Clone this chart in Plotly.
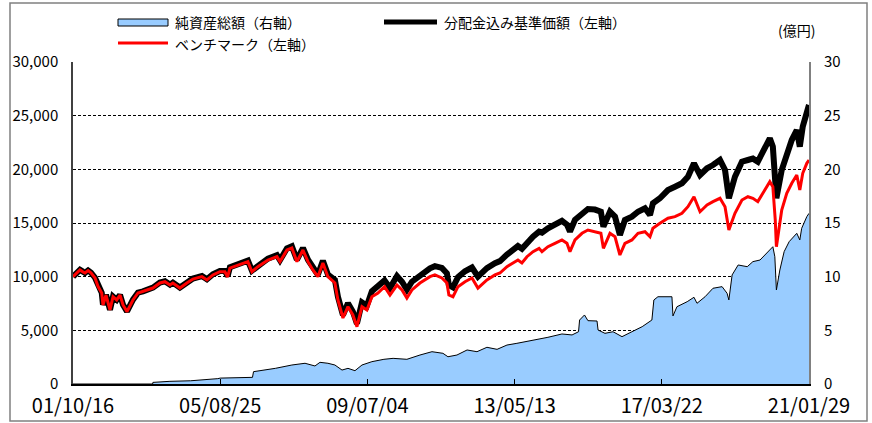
import plotly.graph_objects as go

# 分配金込み基準価額（左軸・円）とベンチマーク（左軸・円）
price_dates = [
    "2001-10-16", "2001-11-13", "2001-12-22", "2002-01-19", "2002-02-08", "2002-03-09",
    "2002-04-06", "2002-05-15", "2002-06-12", "2002-07-18", "2002-07-30", "2002-08-28",
    "2002-10-05", "2002-11-03", "2002-12-08", "2003-01-09", "2003-02-07", "2003-03-17",
    "2003-05-13", "2003-06-30", "2003-08-17", "2003-09-24", "2003-11-20", "2004-01-26",
    "2004-03-14", "2004-05-01", "2004-05-29", "2004-08-04", "2004-10-10", "2004-12-07",
    "2005-03-03", "2005-04-20", "2005-06-16", "2005-08-22", "2005-10-09", "2005-11-04",
    "2005-11-26", "2006-02-11", "2006-05-17", "2006-06-25", "2006-08-21", "2006-11-25",
    "2007-02-19", "2007-03-20", "2007-05-26", "2007-07-12", "2007-08-29", "2007-10-26",
    "2007-12-13", "2008-01-29", "2008-03-17", "2008-05-04", "2008-06-21", "2008-08-27",
    "2008-09-25", "2008-11-12", "2008-12-30", "2009-02-15", "2009-03-26", "2009-05-13",
    "2009-06-29", "2009-08-16", "2009-10-13", "2009-12-15", "2010-02-05", "2010-04-13",
    "2010-05-31", "2010-07-17", "2010-09-03", "2010-11-19", "2011-02-23", "2011-04-11",
    "2011-06-17", "2011-08-04", "2011-08-23", "2011-10-01", "2011-11-18", "2012-01-24",
    "2012-03-31", "2012-05-27", "2012-08-21", "2012-11-06", "2012-12-24", "2013-03-01",
    "2013-04-27", "2013-06-14", "2013-07-22", "2013-09-08", "2013-11-05", "2014-01-02",
    "2014-01-30", "2014-03-28", "2014-06-03", "2014-08-09", "2014-09-26", "2014-10-25",
    "2014-12-12", "2015-02-17", "2015-04-15", "2015-06-21", "2015-08-17", "2015-09-10",
    "2015-11-12", "2015-12-30", "2016-02-15", "2016-04-03", "2016-06-09", "2016-08-06",
    "2016-10-12", "2016-11-29", "2016-12-27", "2017-03-04", "2017-05-20", "2017-07-26",
    "2017-10-01", "2017-11-27", "2018-01-24", "2018-03-23", "2018-05-29", "2018-07-25",
    "2018-09-30", "2018-11-17", "2018-12-24", "2019-02-20", "2019-04-28", "2019-06-24",
    "2019-08-11", "2019-09-27", "2019-12-03", "2020-01-20", "2020-02-18", "2020-03-12",
    "2020-03-23", "2020-05-13", "2020-06-30", "2020-08-17", "2020-10-04", "2020-11-02",
    "2020-11-30", "2021-01-08", "2021-01-29",
]
nav_values = [
    10000, 10310, 10640, 10470, 10360, 10580,
    10370, 9900, 9120, 8500, 7380, 8310,
    6920, 8150, 7850, 8310, 7380, 6760,
    7860, 8510, 8630, 8790, 8980, 9450,
    9570, 9260, 9450, 8990, 9460, 9830,
    10060, 9750, 10220, 10530, 10540, 10050,
    10880, 11180, 11500, 10560, 11040, 11680,
    12000, 11540, 12640, 12840, 11570, 12670,
    11580, 10800, 10180, 11480, 10200, 9700,
    8120, 6420, 7520, 6740, 5620, 7600,
    7300, 8640, 9050, 9650, 8950, 10060,
    9530, 8800, 9530, 10160, 10780, 10980,
    10820, 10310, 9220, 9000, 9950, 10500,
    10850, 10000, 10800, 11250, 11450, 12050,
    12500, 12850, 12600, 13200, 13720, 14190,
    14100, 14510, 14810, 15200, 14850, 14190,
    15300, 15900, 16300, 16250, 16050, 14660,
    16050, 15590, 13880, 15280, 15590, 16050,
    16370, 15750, 16840, 17300, 18070, 18380,
    18700, 19310, 20560, 19470, 20100, 20400,
    20870, 19940, 17300, 19310, 20710, 20870,
    21000, 20710, 22110, 22890, 22110, 19000,
    17300, 19940, 21490, 22730, 23660, 22110,
    23970, 25530, 26000,
]
bench_values = [
    10000, 10300, 10620, 10450, 10340, 10560,
    10350, 9880, 9100, 8480, 7360, 8290,
    6900, 8130, 7830, 8290, 7360, 6740,
    7830, 8480, 8600, 8760, 8940, 9410,
    9530, 9220, 9410, 8940, 9410, 9780,
    10000, 9690, 10160, 10460, 10460, 9970,
    10800, 11090, 11400, 10460, 10930, 11550,
    11860, 11400, 12480, 12670, 11400, 12480,
    11400, 10620, 10000, 11270, 10000, 9410,
    7830, 6150, 7200, 6430, 5340, 7200,
    6900, 8130, 8480, 9070, 8290, 9220,
    8760, 8010, 8760, 9410, 10000, 10160,
    9880, 9410, 8290, 8130, 9070, 9530,
    9880, 8940, 9690, 10160, 10340, 10930,
    11270, 11550, 11270, 11860, 12330, 12640,
    12330, 12790, 13110, 13420, 13110, 12330,
    13420, 14040, 14350, 14190, 14040, 12640,
    14040, 13720, 12020, 13110, 13420, 14040,
    14190, 13720, 14510, 14970, 15440, 15590,
    15900, 16520, 17450, 16050, 16680, 16990,
    17300, 16520, 14350, 15900, 17140, 17450,
    17300, 16990, 18070, 18850, 18380, 15280,
    12790, 16210, 17770, 18700, 19470, 18070,
    19630, 20560, 20870,
]

# 純資産総額（右軸・億円）
aum_dates = [
    "2001-10-16", "2003-11-17", "2003-11-20", "2004-05-01", "2004-11-15", "2005-05-27",
    "2005-08-02", "2005-08-25", "2006-02-27", "2006-06-30", "2006-07-10", "2007-02-04",
    "2007-07-12", "2007-11-15", "2008-02-18", "2008-04-06", "2008-06-21", "2008-08-27",
    "2008-11-03", "2008-12-30", "2009-03-07", "2009-05-13", "2009-08-16", "2009-12-09",
    "2010-03-07", "2010-07-17", "2010-11-19", "2011-03-14", "2011-06-27", "2011-08-14",
    "2011-11-08", "2012-02-13", "2012-05-18", "2012-08-21", "2012-11-26", "2013-03-01",
    "2013-06-04", "2013-09-08", "2014-01-02", "2014-03-28", "2014-08-09", "2014-11-14",
    "2015-01-15", "2015-01-25", "2015-03-13", "2015-04-15", "2015-07-11", "2015-07-21",
    "2015-09-25", "2015-12-11", "2016-03-06", "2016-06-09", "2016-09-15", "2016-12-17",
    "2017-01-05", "2017-02-13", "2017-06-27", "2017-07-07", "2017-08-14", "2017-11-20",
    "2018-01-24", "2018-02-22", "2018-05-10", "2018-07-25", "2018-10-20", "2018-12-07",
    "2018-12-24", "2019-01-24", "2019-03-23", "2019-06-18", "2019-08-11", "2019-10-18",
    "2020-01-03", "2020-02-18", "2020-03-08", "2020-03-23", "2020-04-25", "2020-06-05",
    "2020-07-23", "2020-10-04", "2020-11-02", "2020-11-20", "2021-01-08", "2021-01-29",
]
aum_values = [
    0, 0, 0.15, 0.25, 0.30, 0.40,
    0.50, 0.55, 0.58, 0.62, 1.15, 1.46,
    1.77, 1.93, 1.68, 2.02, 1.93, 1.77,
    1.30, 1.46, 1.24, 1.77, 2.08, 2.30,
    2.39, 2.30, 2.70, 3.01, 2.86, 2.54,
    2.70, 3.17, 3.01, 3.42, 3.23, 3.63,
    3.79, 3.94, 4.19, 4.35, 4.66, 4.57,
    4.87, 5.96, 6.43, 5.90, 5.87, 5.03,
    4.72, 4.87, 4.41, 4.87, 5.34, 5.96,
    7.83, 8.13, 8.13, 6.34, 7.20, 7.67,
    8.08, 7.52, 8.13, 8.92, 9.07, 8.45,
    7.83, 10.16, 11.09, 10.93, 11.40, 11.55,
    12.33, 12.79, 11.86, 8.76, 10.62, 12.33,
    13.26, 14.04, 13.42, 14.51, 15.59, 15.90,
]

x_tick_dates = ["2001-10-16", "2005-08-25", "2009-07-04", "2013-05-13", "2017-03-22", "2021-01-29"]
x_tick_labels = ["01/10/16", "05/08/25", "09/07/04", "13/05/13", "17/03/22", "21/01/29"]
yen_ticks = [0, 5000, 10000, 15000, 20000, 25000, 30000]
oku_ticks = [0, 5, 10, 15, 20, 25, 30]

legend_labels = ["純資産総額（右軸）", "分配金込み基準価額（左軸）", "ベンチマーク（左軸）"]
unit_label = "(億円)"

JP_FONT = "Noto Sans CJK JP"
AREA_FILL = "#99CCFF"

# plot-area geometry in pixels, used to place decorations outside the axes
W, H = 872, 423
L, R, T, B = 73, 809, 62, 384


def px_x(p):
    return (p - L) / (R - L)


def px_y(q):
    return (B - q) / (B - T)


fig = go.Figure()

# net assets: filled area on the right-hand axis (primary y, drawn underneath)
fig.add_trace(go.Scatter(
    x=aum_dates, y=aum_values, name=legend_labels[0],
    mode="lines", fill="tozeroy", fillcolor=AREA_FILL,
    line=dict(color="black", width=1), yaxis="y",
))
# NAV incl. distributions and benchmark on the left-hand axis
fig.add_trace(go.Scatter(
    x=price_dates, y=nav_values, name=legend_labels[1],
    mode="lines", line=dict(color="black", width=6), yaxis="y2",
))
fig.add_trace(go.Scatter(
    x=price_dates, y=bench_values, name=legend_labels[2],
    mode="lines", line=dict(color="#FF0000", width=3), yaxis="y2",
))

shapes = [
    # outer frame
    dict(type="rect", xref="paper", yref="paper",
         x0=px_x(10), x1=px_x(867), y0=px_y(421), y1=px_y(3),
         line=dict(color="#808080", width=1.5), fillcolor="rgba(0,0,0,0)"),
    # legend keys
    dict(type="rect", xref="paper", yref="paper",
         x0=px_x(118), x1=px_x(168), y0=px_y(26), y1=px_y(19),
         line=dict(color="black", width=1), fillcolor=AREA_FILL),
    dict(type="line", xref="paper", yref="paper",
         x0=px_x(384), x1=px_x(437), y0=px_y(22), y1=px_y(22),
         line=dict(color="black", width=5)),
    dict(type="line", xref="paper", yref="paper",
         x0=px_x(118), x1=px_x(168), y0=px_y(43), y1=px_y(43),
         line=dict(color="#FF0000", width=3)),
]

annotations = [
    dict(text=legend_labels[0], x=px_x(173), y=px_y(22)),
    dict(text=legend_labels[1], x=px_x(442), y=px_y(22)),
    dict(text=legend_labels[2], x=px_x(173), y=px_y(44)),
    dict(text=unit_label, x=px_x(776), y=px_y(30)),
]
for a in annotations:
    a.update(xref="paper", yref="paper", xanchor="left", yanchor="middle",
             showarrow=False, font=dict(family=JP_FONT, size=14, color="black"))

fig.update_layout(
    width=W, height=H, autosize=False,
    margin=dict(l=L, r=W - R, t=T, b=H - B, pad=0),
    paper_bgcolor="white", plot_bgcolor="white",
    showlegend=False,
    font=dict(family=JP_FONT, color="black"),
    xaxis=dict(
        type="date", range=[x_tick_dates[0], x_tick_dates[-1]],
        tickmode="array", tickvals=x_tick_dates, ticktext=x_tick_labels,
        ticks="inside", ticklen=5, tickwidth=1, tickcolor="black",
        showgrid=False, zeroline=False, automargin=False,
        showline=True, linecolor="black", linewidth=2,
        tickfont=dict(family=JP_FONT, size=20, color="black"),
        ticklabelstandoff=3,
    ),
    yaxis=dict(
        side="right", range=[0, 30], tickmode="array", tickvals=oku_ticks,
        showgrid=True, gridcolor="black", gridwidth=1, griddash="3px,2px",
        zeroline=False, showline=True, linecolor="#808080", linewidth=2,
        ticks="", ticklabelstandoff=10, automargin=False,
        tickfont=dict(family=JP_FONT, size=15, color="black"),
    ),
    yaxis2=dict(
        side="left", overlaying="y", range=[0, 30000], tickmode="array",
        tickvals=yen_ticks, tickformat=",d",
        showgrid=False, zeroline=False, automargin=False,
        showline=True, linecolor="#404040", linewidth=1.5,
        ticks="", ticklabelstandoff=10,
        tickfont=dict(family=JP_FONT, size=15, color="black"),
    ),
    shapes=shapes,
    annotations=annotations,
)

fig.write_html("out.html")
